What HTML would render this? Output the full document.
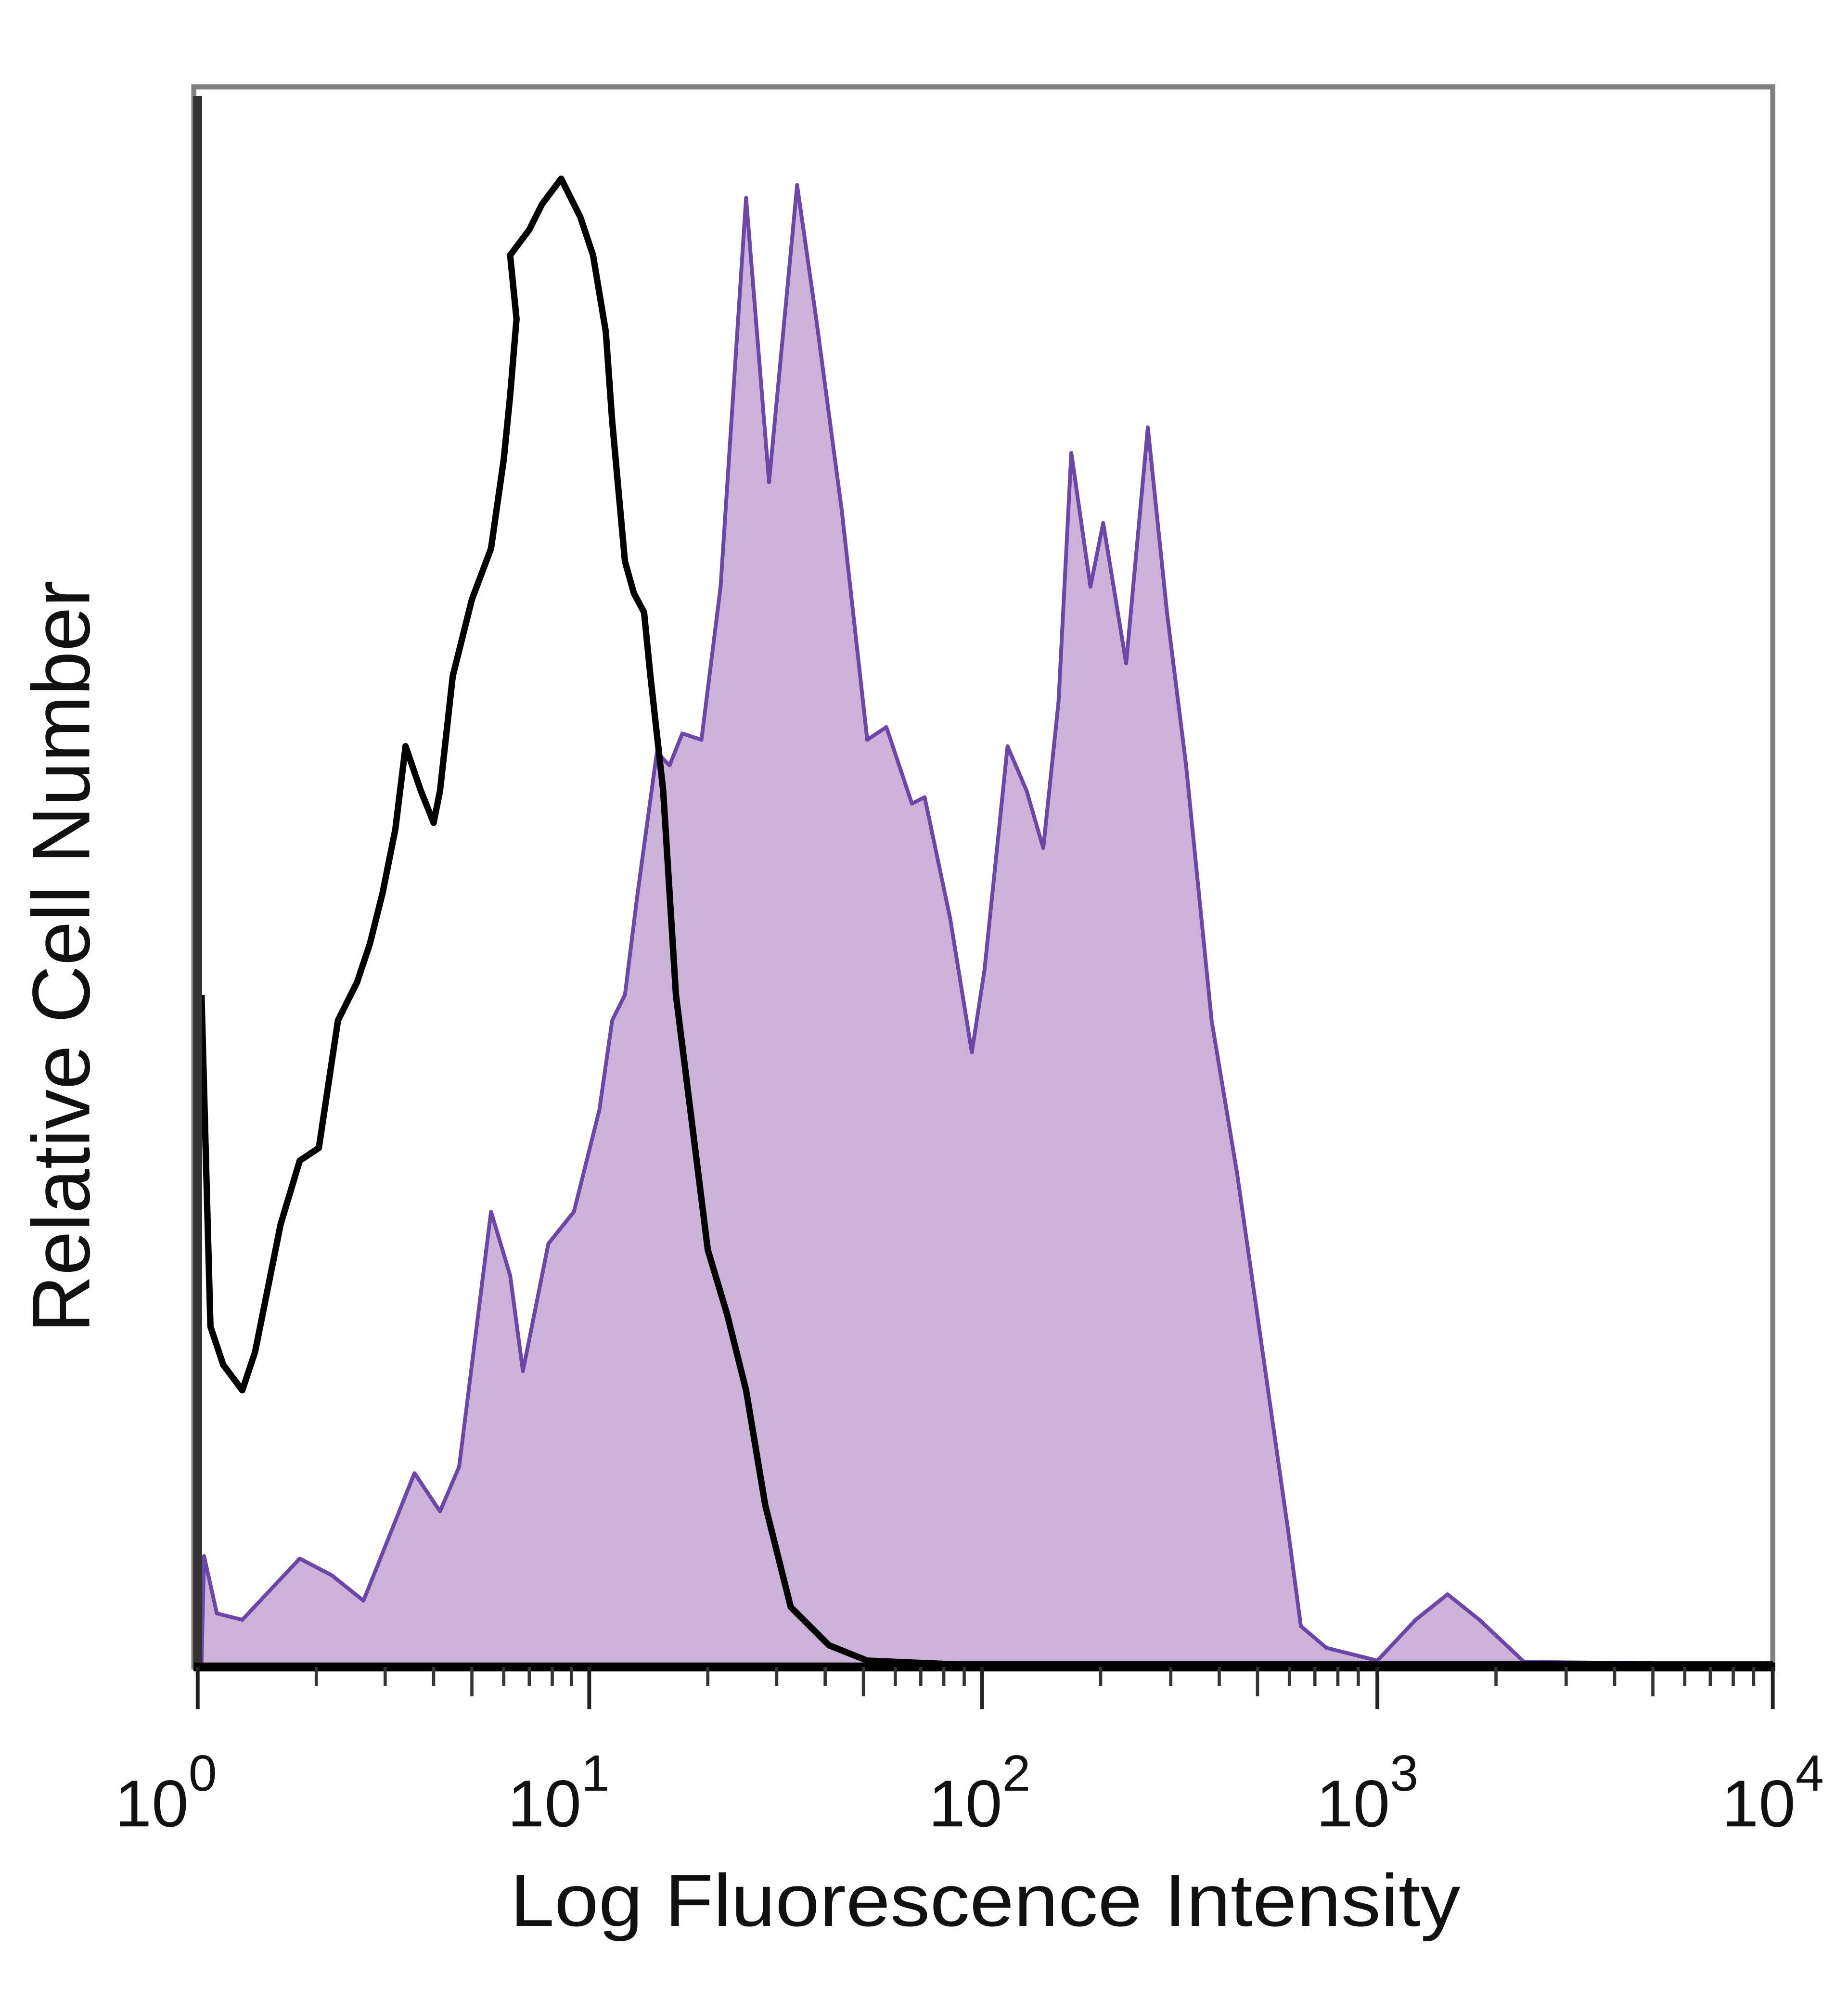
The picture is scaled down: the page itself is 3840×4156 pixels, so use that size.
<!DOCTYPE html>
<html><head><meta charset="utf-8"><style>html,body{margin:0;padding:0;background:#fff}svg{display:block}</style></head>
<body>
<svg width="3840" height="4156" viewBox="0 0 1449 1568" xmlns="http://www.w3.org/2000/svg" font-family="Liberation Sans, sans-serif">
<rect width="1449" height="1568" fill="#fff"/>
<!-- frame -->
<rect x="152" y="68" width="1238" height="1239" fill="none" stroke="#808080" stroke-width="4"/>
<!-- purple fill -->
<path d="M158,1305 L160,1220 L170,1265 L190,1270 L235,1222 L260,1235 L285,1255 L305,1205 L325,1155 L345,1185 L360,1150 L385,950 L400,1000 L410,1075 L430,975 L450,950 L470,870 L480,800 L490,780 L500,700 L515,590 L525,600 L535,575 L550,580 L565,460 L585,155 L603,378 L625,145 L640,250 L660,400 L680,580 L695,570 L715,630 L725,625 L745,720 L762,825 L772,760 L790,585 L805,620 L818,665 L830,550 L840,355 L855,460 L865,410 L883,520 L900,335 L915,480 L930,600 L950,800 L970,920 L990,1060 L1010,1200 L1020,1275 L1040,1292 L1080,1302 L1110,1270 L1135,1250 L1160,1270 L1195,1303 L1390,1305 Z" fill="#cbb2d8" stroke="#6a47a8" stroke-width="3" stroke-linejoin="round"/>
<!-- black line -->
<path d="M158,780 L165,1040 L175,1070 L190,1090 L200,1060 L220,960 L235,910 L250,900 L265,800 L280,770 L290,740 L300,700 L310,650 L318,585 L330,620 L340,645 L345,620 L355,530 L370,470 L385,430 L395,360 L400,310 L405,250 L400,200 L415,180 L425,160 L440,140 L455,170 L465,200 L475,260 L480,330 L490,440 L497,465 L505,480 L510,530 L520,620 L530,780 L545,900 L555,980 L570,1030 L585,1090 L600,1180 L620,1260 L650,1290 L680,1302 L750,1305 L1390,1305" fill="none" stroke="#000" stroke-width="5" stroke-linejoin="round"/>
<!-- axes -->
<line x1="155" y1="75" x2="155" y2="1310" stroke="#333" stroke-width="7"/>
<line x1="152" y1="1307" x2="1392" y2="1307" stroke="#000" stroke-width="7"/>
<g stroke="#222" stroke-width="3">
<line x1="155" y1="1307" x2="155" y2="1340"/><line x1="462" y1="1307" x2="462" y2="1340"/><line x1="770" y1="1307" x2="770" y2="1340"/><line x1="1080" y1="1307" x2="1080" y2="1340"/><line x1="1390" y1="1307" x2="1390" y2="1340"/>
</g>
<g stroke="#333" stroke-width="2.5" id="minor">
<line x1="248" y1="1307" x2="248" y2="1322"/><line x1="302" y1="1307" x2="302" y2="1322"/><line x1="340" y1="1307" x2="340" y2="1322"/><line x1="370" y1="1307" x2="370" y2="1330"/><line x1="395" y1="1307" x2="395" y2="1322"/><line x1="415" y1="1307" x2="415" y2="1322"/><line x1="433" y1="1307" x2="433" y2="1322"/><line x1="448" y1="1307" x2="448" y2="1322"/>
<line x1="555" y1="1307" x2="555" y2="1322"/><line x1="609" y1="1307" x2="609" y2="1322"/><line x1="647" y1="1307" x2="647" y2="1322"/><line x1="677" y1="1307" x2="677" y2="1330"/><line x1="702" y1="1307" x2="702" y2="1322"/><line x1="722" y1="1307" x2="722" y2="1322"/><line x1="740" y1="1307" x2="740" y2="1322"/><line x1="756" y1="1307" x2="756" y2="1322"/>
<line x1="863" y1="1307" x2="863" y2="1322"/><line x1="918" y1="1307" x2="918" y2="1322"/><line x1="956" y1="1307" x2="956" y2="1322"/><line x1="986" y1="1307" x2="986" y2="1330"/><line x1="1011" y1="1307" x2="1011" y2="1322"/><line x1="1031" y1="1307" x2="1031" y2="1322"/><line x1="1049" y1="1307" x2="1049" y2="1322"/><line x1="1065" y1="1307" x2="1065" y2="1322"/>
<line x1="1173" y1="1307" x2="1173" y2="1322"/><line x1="1228" y1="1307" x2="1228" y2="1322"/><line x1="1266" y1="1307" x2="1266" y2="1322"/><line x1="1296" y1="1307" x2="1296" y2="1330"/><line x1="1321" y1="1307" x2="1321" y2="1322"/><line x1="1341" y1="1307" x2="1341" y2="1322"/><line x1="1359" y1="1307" x2="1359" y2="1322"/><line x1="1375" y1="1307" x2="1375" y2="1322"/>
</g>
<!-- tick labels -->
<g font-size="52" fill="#111">
<text x="90" y="1432">10<tspan dy="-28" font-size="40">0</tspan></text>
<text x="398" y="1432">10<tspan dy="-28" font-size="40">1</tspan></text>
<text x="728" y="1432">10<tspan dy="-28" font-size="40">2</tspan></text>
<text x="1032" y="1432">10<tspan dy="-28" font-size="40">3</tspan></text>
<text x="1350" y="1432">10<tspan dy="-28" font-size="40">4</tspan></text>
</g>
<text x="400" y="1510" font-size="58" fill="#111" textLength="745" lengthAdjust="spacingAndGlyphs">Log Fluorescence Intensity</text>
<text transform="translate(70,1045) rotate(-90)" font-size="64" fill="#111" textLength="590" lengthAdjust="spacingAndGlyphs">Relative Cell Number</text>
</svg>
</body></html>
